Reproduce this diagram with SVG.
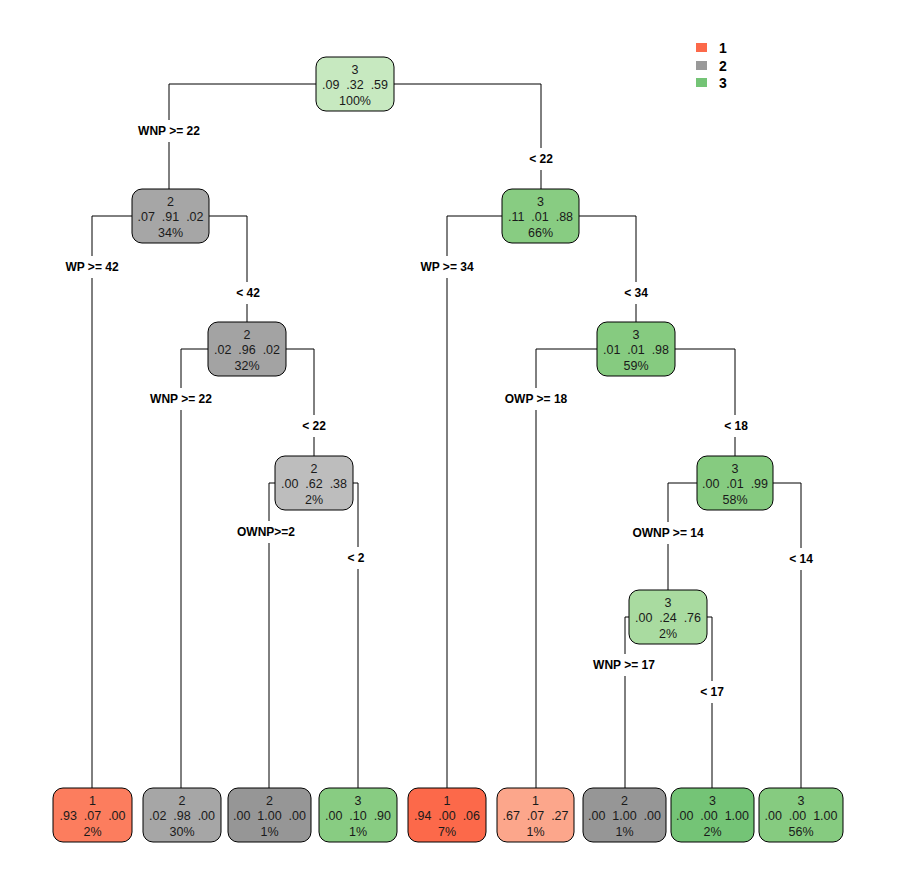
<svg xmlns="http://www.w3.org/2000/svg" width="897" height="896" viewBox="0 0 897 896">
<style>
.n{stroke:#000;stroke-width:1}
.t{font-family:"Liberation Sans",Arial,sans-serif;font-size:12.5px;fill:#1a1a1a;text-anchor:middle;white-space:pre}
.c{fill:none;stroke:#000;stroke-width:1}
.lb{fill:#fff}
.l{font-family:"Liberation Sans",Arial,sans-serif;font-size:12px;font-weight:bold;fill:#000;text-anchor:middle}
.lg{font-family:"Liberation Sans",Arial,sans-serif;font-size:14px;font-weight:bold;fill:#000}
</style>
<rect width="897" height="896" fill="#fff"/>
<g id="connectors">
<path class="c" d="M316,84H169V189M394,84H541V189"/>
<path class="c" d="M132,216H92V788M209,216H247V322"/>
<path class="c" d="M502,216H447V788M579,216H636V322"/>
<path class="c" d="M208,349H181V788M286,349H314V456"/>
<path class="c" d="M597,349H536V788M675,349H735V456"/>
<path class="c" d="M275,483H269V788M353,483H358V788"/>
<path class="c" d="M697,483H668V590M773,483H801V788"/>
<path class="c" d="M629,617H625V788M707,617H712V788"/>
</g>
<g id="labels">
<rect class="lb" x="133" y="120" width="72" height="22"/><text class="l" x="169" y="135">WNP &gt;= 22</text>
<rect class="lb" x="525" y="148" width="32" height="22"/><text class="l" x="541" y="163">&lt; 22</text>
<rect class="lb" x="60" y="256" width="64" height="22"/><text class="l" x="92" y="271">WP &gt;= 42</text>
<rect class="lb" x="232" y="282" width="32" height="22"/><text class="l" x="248" y="297">&lt; 42</text>
<rect class="lb" x="415" y="256" width="64" height="22"/><text class="l" x="447" y="271">WP &gt;= 34</text>
<rect class="lb" x="620" y="282" width="32" height="22"/><text class="l" x="636" y="297">&lt; 34</text>
<rect class="lb" x="145" y="388" width="72" height="22"/><text class="l" x="181" y="403">WNP &gt;= 22</text>
<rect class="lb" x="298" y="415" width="32" height="22"/><text class="l" x="314" y="430">&lt; 22</text>
<rect class="lb" x="500" y="388" width="72" height="22"/><text class="l" x="536" y="403">OWP &gt;= 18</text>
<rect class="lb" x="720" y="415" width="32" height="22"/><text class="l" x="736" y="430">&lt; 18</text>
<rect class="lb" x="230" y="521" width="72" height="22"/><text class="l" x="266" y="536">OWNP&gt;=2</text>
<rect class="lb" x="342" y="547" width="28" height="22"/><text class="l" x="356" y="562">&lt; 2</text>
<rect class="lb" x="628" y="522" width="80" height="22"/><text class="l" x="668" y="537">OWNP &gt;= 14</text>
<rect class="lb" x="785" y="548" width="32" height="22"/><text class="l" x="801" y="563">&lt; 14</text>
<rect class="lb" x="588" y="654" width="72" height="22"/><text class="l" x="624" y="669">WNP &gt;= 17</text>
<rect class="lb" x="696" y="681" width="32" height="22"/><text class="l" x="712" y="696">&lt; 17</text>
</g>
<g id="node1"><rect class="n" x="316" y="57" width="78" height="54" rx="10" fill="#c7e9c0"/><text class="t" x="355" y="74">3</text><text class="t" x="355" y="89" xml:space="preserve">.09  .32  .59</text><text class="t" x="355" y="105">100%</text></g>
<g id="node2"><rect class="n" x="132" y="189" width="77" height="54" rx="10" fill="#a6a6a6"/><text class="t" x="170.5" y="206">2</text><text class="t" x="170.5" y="221" xml:space="preserve">.07  .91  .02</text><text class="t" x="170.5" y="237">34%</text></g>
<g id="node3"><rect class="n" x="502" y="189" width="77" height="54" rx="10" fill="#88cc82"/><text class="t" x="540.5" y="206">3</text><text class="t" x="540.5" y="221" xml:space="preserve">.11  .01  .88</text><text class="t" x="540.5" y="237">66%</text></g>
<g id="node4"><rect class="n" x="208" y="322" width="78" height="54" rx="10" fill="#a3a3a3"/><text class="t" x="247" y="339">2</text><text class="t" x="247" y="354" xml:space="preserve">.02  .96  .02</text><text class="t" x="247" y="370">32%</text></g>
<g id="node5"><rect class="n" x="597" y="322" width="78" height="54" rx="10" fill="#86cb80"/><text class="t" x="636" y="339">3</text><text class="t" x="636" y="354" xml:space="preserve">.01  .01  .98</text><text class="t" x="636" y="370">59%</text></g>
<g id="node6"><rect class="n" x="275" y="456" width="78" height="54" rx="10" fill="#bdbdbd"/><text class="t" x="314" y="473">2</text><text class="t" x="314" y="488" xml:space="preserve">.00  .62  .38</text><text class="t" x="314" y="504">2%</text></g>
<g id="node7"><rect class="n" x="697" y="456" width="76" height="54" rx="10" fill="#86cb80"/><text class="t" x="735" y="473">3</text><text class="t" x="735" y="488" xml:space="preserve">.00  .01  .99</text><text class="t" x="735" y="504">58%</text></g>
<g id="node8"><rect class="n" x="629" y="590" width="78" height="54" rx="10" fill="#a9dba0"/><text class="t" x="668" y="607">3</text><text class="t" x="668" y="622" xml:space="preserve">.00  .24  .76</text><text class="t" x="668" y="638">2%</text></g>
<g id="leaf1"><rect class="n" x="53" y="788" width="79" height="54" rx="10" fill="#fc7d5e"/><text class="t" x="92.5" y="805">1</text><text class="t" x="92.5" y="820" xml:space="preserve">.93  .07  .00</text><text class="t" x="92.5" y="836">2%</text></g>
<g id="leaf2"><rect class="n" x="143" y="788" width="78" height="54" rx="10" fill="#a6a6a6"/><text class="t" x="182" y="805">2</text><text class="t" x="182" y="820" xml:space="preserve">.02  .98  .00</text><text class="t" x="182" y="836">30%</text></g>
<g id="leaf3"><rect class="n" x="228" y="788" width="83" height="54" rx="10" fill="#969696"/><text class="t" x="269.5" y="805">2</text><text class="t" x="269.5" y="820" xml:space="preserve">.00  1.00  .00</text><text class="t" x="269.5" y="836">1%</text></g>
<g id="leaf4"><rect class="n" x="319" y="788" width="78" height="54" rx="10" fill="#88cc82"/><text class="t" x="358" y="805">3</text><text class="t" x="358" y="820" xml:space="preserve">.00  .10  .90</text><text class="t" x="358" y="836">1%</text></g>
<g id="leaf5"><rect class="n" x="408" y="788" width="78" height="54" rx="10" fill="#fc694a"/><text class="t" x="447" y="805">1</text><text class="t" x="447" y="820" xml:space="preserve">.94  .00  .06</text><text class="t" x="447" y="836">7%</text></g>
<g id="leaf6"><rect class="n" x="497" y="788" width="77" height="54" rx="10" fill="#fca68b"/><text class="t" x="535.5" y="805">1</text><text class="t" x="535.5" y="820" xml:space="preserve">.67  .07  .27</text><text class="t" x="535.5" y="836">1%</text></g>
<g id="leaf7"><rect class="n" x="583" y="788" width="83" height="54" rx="10" fill="#969696"/><text class="t" x="624.5" y="805">2</text><text class="t" x="624.5" y="820" xml:space="preserve">.00  1.00  .00</text><text class="t" x="624.5" y="836">1%</text></g>
<g id="leaf8"><rect class="n" x="671" y="788" width="83" height="54" rx="10" fill="#74c476"/><text class="t" x="712.5" y="805">3</text><text class="t" x="712.5" y="820" xml:space="preserve">.00  .00  1.00</text><text class="t" x="712.5" y="836">2%</text></g>
<g id="leaf9"><rect class="n" x="759" y="788" width="84" height="54" rx="10" fill="#86cb80"/><text class="t" x="801" y="805">3</text><text class="t" x="801" y="820" xml:space="preserve">.00  .00  1.00</text><text class="t" x="801" y="836">56%</text></g>
<g id="legend">
<rect x="696" y="43" width="11" height="9" fill="#fc694a"/><text class="lg" x="719" y="53">1</text>
<rect x="696" y="61" width="11" height="9" fill="#999999"/><text class="lg" x="719" y="71">2</text>
<rect x="696" y="78" width="11" height="9" fill="#74c476"/><text class="lg" x="719" y="88">3</text>
</g>
</svg>
